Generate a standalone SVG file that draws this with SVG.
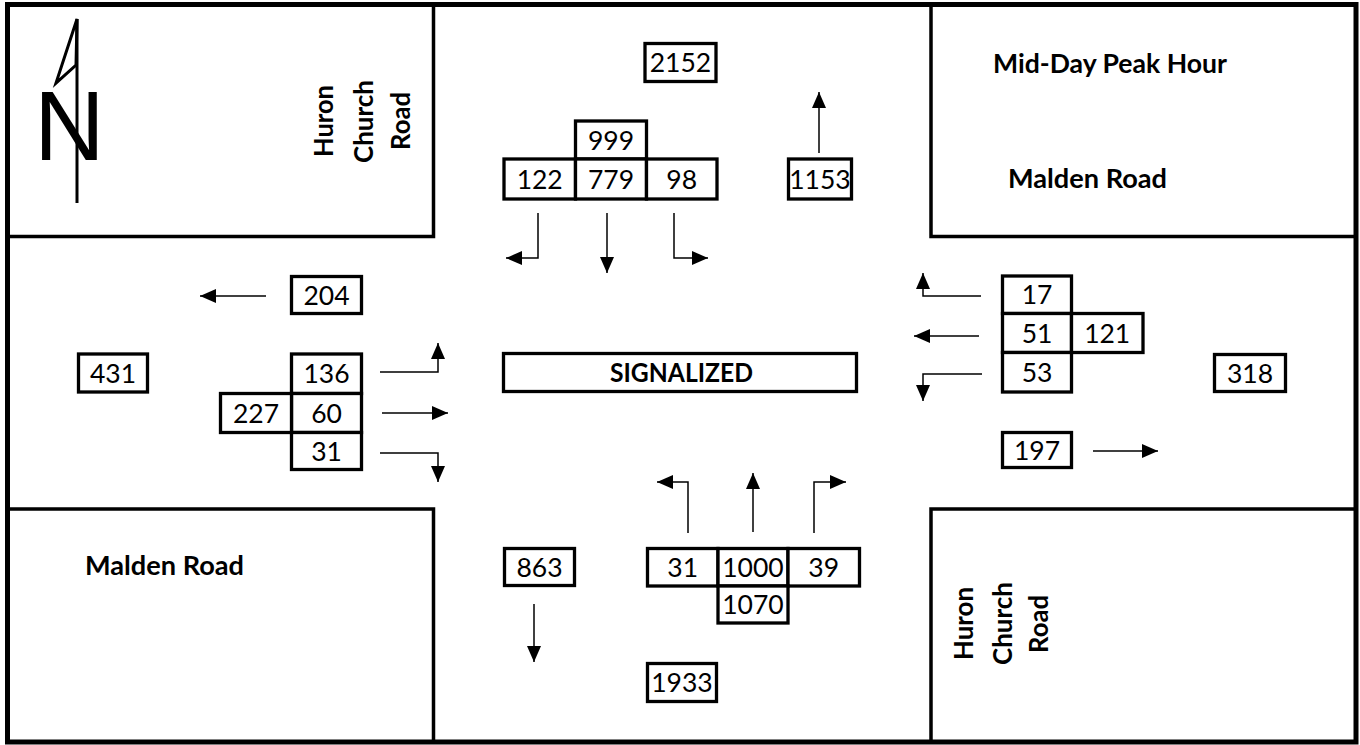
<svg xmlns="http://www.w3.org/2000/svg" width="1360" height="745" viewBox="0 0 1360 745">
<style>
.blk{fill:none;stroke:#000;stroke-width:3.5}
.box{fill:#fff;stroke:#000;stroke-width:3.3}
.num{font-family:Lato,"Liberation Sans",sans-serif;font-size:26.5px;fill:#000;text-anchor:middle}
.lbl{font-family:Lato,"Liberation Sans",sans-serif;font-size:26px;font-weight:bold;fill:#000}
.rot{font-family:Lato,"Liberation Sans",sans-serif;font-size:26px;font-weight:bold;fill:#000;text-anchor:middle}
.con{fill:none;stroke:#000;stroke-width:1.5}
</style>
<defs>
<marker id="ah" markerUnits="userSpaceOnUse" markerWidth="17" markerHeight="15" refX="16" refY="7" orient="auto">
<path d="M0,0 L16,7 L0,14 z" fill="#000"/>
</marker>
</defs>
<rect width="1360" height="745" fill="#fff"/>
<g id="frame">
<rect x="7.5" y="4.5" width="1348.5" height="737.5" fill="none" stroke="#000" stroke-width="5"/>
<path class="blk" d="M433.5,5 V236.5 H7"/>
<path class="blk" d="M931,5 V236.5 H1356"/>
<path class="blk" d="M7,509 H433.5 V742"/>
<path class="blk" d="M1356,509 H931 V742"/>
</g>
<g id="north-arrow">
<line x1="77" y1="19" x2="77" y2="203" stroke="#000" stroke-width="3"/>
<polygon points="77,19 56,83 76,65" fill="none" stroke="#000" stroke-width="3" stroke-linejoin="miter"/>
<text x="34" y="160" font-family="Liberation Sans,Arial,sans-serif" font-size="98" fill="#000">N</text>
</g>
<g id="label-huron-nw">
<text class="rot" transform="translate(333,121) rotate(-90)" textLength="72" lengthAdjust="spacingAndGlyphs">Huron</text>
<text class="rot" transform="translate(372.5,121.5) rotate(-90)" textLength="83" lengthAdjust="spacingAndGlyphs">Church</text>
<text class="rot" transform="translate(410,121) rotate(-90)" textLength="58" lengthAdjust="spacingAndGlyphs">Road</text>
</g>
<g id="label-huron-se">
<text class="rot" transform="translate(973,623.5) rotate(-90)" textLength="73" lengthAdjust="spacingAndGlyphs">Huron</text>
<text class="rot" transform="translate(1012,623.5) rotate(-90)" textLength="83" lengthAdjust="spacingAndGlyphs">Church</text>
<text class="rot" transform="translate(1048,624) rotate(-90)" textLength="58" lengthAdjust="spacingAndGlyphs">Road</text>
</g>
<g id="label-peak">
<text class="lbl" x="993" y="73" textLength="234" lengthAdjust="spacingAndGlyphs">Mid-Day Peak Hour</text>
</g>
<g id="label-malden-ne">
<text class="lbl" x="1008" y="188" textLength="159" lengthAdjust="spacingAndGlyphs">Malden Road</text>
</g>
<g id="label-malden-sw">
<text class="lbl" x="85" y="575" textLength="159" lengthAdjust="spacingAndGlyphs">Malden Road</text>
</g>
<g id="signalized">
<rect class="box" x="503.5" y="353.5" width="353" height="38"/>
<text class="lbl" x="610" y="382" font-size="27" textLength="143" lengthAdjust="spacingAndGlyphs">SIGNALIZED</text>
</g>
<g id="n-total-out"><rect class="box" x="645" y="43.5" width="71" height="38"/><text class="num" x="680.5" y="72">2152</text></g>
<g id="n-approach"><rect class="box" x="575.5" y="121" width="71" height="38"/><text class="num" x="611" y="149.5">999</text></g>
<g id="n-right"><rect class="box" x="504" y="159" width="71.5" height="40"/><text class="num" x="539.7" y="188.5">122</text></g>
<g id="n-through"><rect class="box" x="575.5" y="159" width="71" height="40"/><text class="num" x="611" y="188.5">779</text></g>
<g id="n-left"><rect class="box" x="646.5" y="159" width="70.5" height="40"/><text class="num" x="681.7" y="188.5">98</text></g>
<g id="n-exit"><rect class="box" x="788.5" y="159" width="63" height="40"/><text class="num" x="820" y="188.5">1153</text></g>
<g id="w-exit"><rect class="box" x="291.5" y="276.5" width="70" height="37"/><text class="num" x="326.5" y="304.5">204</text></g>
<g id="w-left"><rect class="box" x="291.5" y="354" width="70" height="39.5"/><text class="num" x="326.5" y="383">136</text></g>
<g id="w-through"><rect class="box" x="291.5" y="393.5" width="70" height="39"/><text class="num" x="326.5" y="422.5">60</text></g>
<g id="w-right"><rect class="box" x="291.5" y="432.5" width="70" height="37"/><text class="num" x="326.5" y="460.5">31</text></g>
<g id="w-approach"><rect class="box" x="220.5" y="393.5" width="71" height="39"/><text class="num" x="256" y="422.5">227</text></g>
<g id="w-total"><rect class="box" x="78.5" y="354" width="69" height="38"/><text class="num" x="113" y="382.5">431</text></g>
<g id="e-right"><rect class="box" x="1002.5" y="276" width="69" height="37.5"/><text class="num" x="1037" y="304">17</text></g>
<g id="e-through"><rect class="box" x="1002.5" y="313.5" width="69" height="39"/><text class="num" x="1037" y="342.5">51</text></g>
<g id="e-left"><rect class="box" x="1002.5" y="352.5" width="69" height="39.5"/><text class="num" x="1037" y="381.7">53</text></g>
<g id="e-approach"><rect class="box" x="1071.5" y="313.5" width="71.5" height="39"/><text class="num" x="1107.2" y="342.5">121</text></g>
<g id="e-total"><rect class="box" x="1214.5" y="354.5" width="71" height="37"/><text class="num" x="1250" y="382.5">318</text></g>
<g id="e-exit"><rect class="box" x="1002.5" y="432.5" width="69" height="35"/><text class="num" x="1037" y="459.5">197</text></g>
<g id="s-exit"><rect class="box" x="504.5" y="548.5" width="70" height="37"/><text class="num" x="539.5" y="576.5">863</text></g>
<g id="s-left"><rect class="box" x="647.5" y="548.5" width="70.5" height="37.5"/><text class="num" x="682.7" y="576.7">31</text></g>
<g id="s-through"><rect class="box" x="718" y="548.5" width="70" height="37.5"/><text class="num" x="753" y="576.7">1000</text></g>
<g id="s-right"><rect class="box" x="788" y="548.5" width="71.5" height="37.5"/><text class="num" x="823.7" y="576.7">39</text></g>
<g id="s-approach"><rect class="box" x="718" y="586" width="70" height="37"/><text class="num" x="753" y="614">1070</text></g>
<g id="s-total"><rect class="box" x="647.5" y="663.5" width="69" height="38"/><text class="num" x="682" y="692">1933</text></g>
<g id="connectors">
<path class="con" marker-end="url(#ah)" d="M538,213 V258 H506"/>
<path class="con" marker-end="url(#ah)" d="M607,213 V273"/>
<path class="con" marker-end="url(#ah)" d="M674,213 V258 H708"/>
<path class="con" marker-end="url(#ah)" d="M819,153 V92"/>
<path class="con" marker-end="url(#ah)" d="M266,296 H200"/>
<path class="con" marker-end="url(#ah)" d="M380,372 H438 V343"/>
<path class="con" marker-end="url(#ah)" d="M382,413 H448"/>
<path class="con" marker-end="url(#ah)" d="M380,453 H438 V482"/>
<path class="con" marker-end="url(#ah)" d="M981,296 H923 V273"/>
<path class="con" marker-end="url(#ah)" d="M979,336 H914"/>
<path class="con" marker-end="url(#ah)" d="M982,374 H923 V401"/>
<path class="con" marker-end="url(#ah)" d="M1093,451 H1158"/>
<path class="con" marker-end="url(#ah)" d="M534,604 V662"/>
<path class="con" marker-end="url(#ah)" d="M688,533 V482 H657"/>
<path class="con" marker-end="url(#ah)" d="M753,532 V473"/>
<path class="con" marker-end="url(#ah)" d="M814,533 V482 H846"/>
</g>
</svg>
